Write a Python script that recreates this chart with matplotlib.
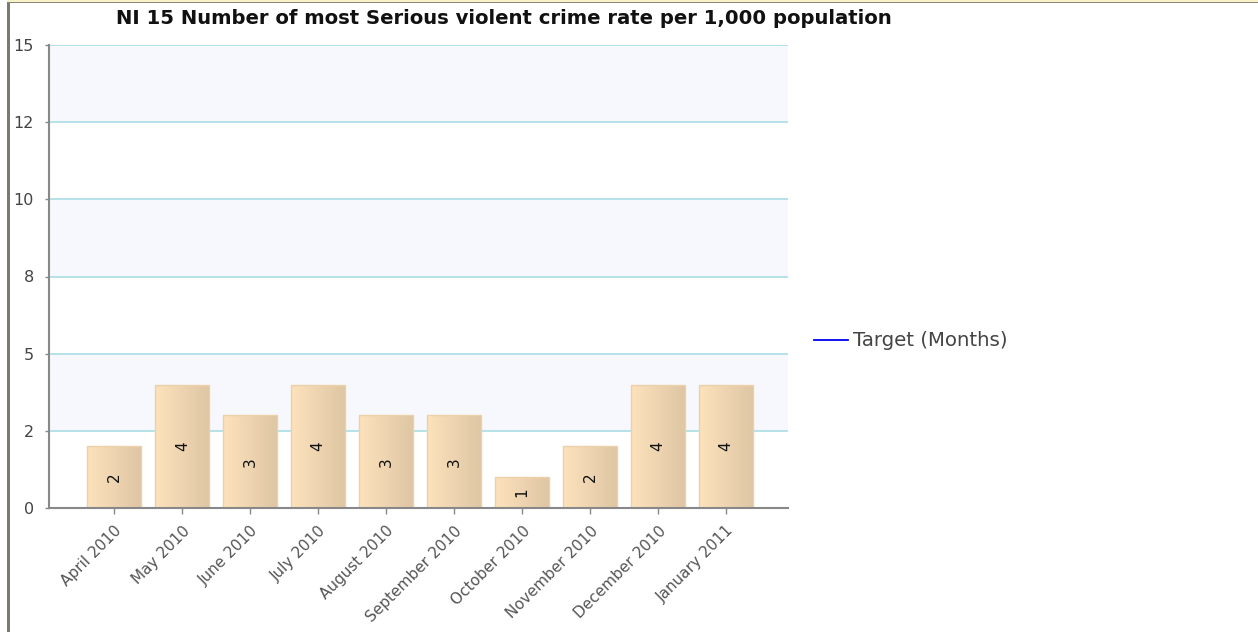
import numpy as np
import matplotlib
matplotlib.use("Agg")
import matplotlib.pyplot as plt
from matplotlib.colors import LinearSegmentedColormap
from matplotlib.lines import Line2D

# ---- data ----
months = ["April 2010", "May 2010", "June 2010", "July 2010", "August 2010",
          "September 2010", "October 2010", "November 2010", "December 2010",
          "January 2011"]
counts = [2, 4, 3, 4, 3, 3, 1, 2, 4, 4]
ytick_values = [0, 2.5, 5, 7.5, 10, 12.5, 15]
ytick_labels = ["0", "2", "5", "8", "10", "12", "15"]
title = "NI 15 Number of most Serious violent crime rate per 1,000 population"
legend_label = "Target (Months)"

W, H = 1258, 632
fig = plt.figure(figsize=(W / 100, H / 100), dpi=100)
fig.patch.set_facecolor("white")

# outer frame decorations (gray left border, olive/yellow top strip)
fig.add_artist(plt.Rectangle((7 / W, 0), 3 / W, 1, transform=fig.transFigure,
                             facecolor="#7a7a70", edgecolor="none"))
fig.add_artist(plt.Rectangle((7 / W, 1 - 2 / H), 1, 2 / H, transform=fig.transFigure,
                             facecolor="#f8f2c8", edgecolor="none"))
fig.add_artist(plt.Rectangle((7 / W, 1 - 3.2 / H), 1, 1.4 / H, transform=fig.transFigure,
                             facecolor="#8a8670", edgecolor="none"))

L, R, T, B = 49, 788, 45, 508
ax = fig.add_axes([L / W, 1 - B / H, (R - L) / W, (B - T) / H])
ax.set_facecolor("white")

x = np.arange(len(months))

# alternating bands
for i in range(len(ytick_values) - 1):
    if i % 2 == 1:
        ax.axhspan(ytick_values[i], ytick_values[i + 1], color="#f7f8fd", zorder=0, lw=0)
for v in ytick_values[1:]:
    ax.axhline(v, color="#a9dde6", lw=1.2, zorder=1)

cmap = LinearSegmentedColormap.from_list("tan", ["#fde2bc", "#dfc6a4"])
grad = np.linspace(0, 1, 256).reshape(1, -1)
bars = ax.bar(x, counts, width=0.79, facecolor="none", edgecolor="#ecd0aa",
              lw=1.0, zorder=3)
for b, c in zip(bars, counts):
    x0, w = b.get_x(), b.get_width()
    im = ax.imshow(grad, cmap=cmap, aspect="auto", extent=(x0, x0 + w, 0, c),
                   zorder=2, interpolation="bilinear")
    im.set_clip_path(b)
    ax.text(b.get_x() + w / 2, c / 2, str(c), rotation=90, ha="center", va="center",
            fontsize=11, color="#111111", zorder=4)
ax.set_xlim(-0.96, 9.91)
ax.set_ylim(0, 15)

ax.set_xticks(x)
ax.set_xticklabels(months, rotation=45, ha="right", rotation_mode="anchor",
                   fontsize=11, color="#555555")
ax.set_yticks(ytick_values)
ax.set_yticklabels(ytick_labels, fontsize=11.5, color="#444444")
ax.tick_params(axis="both", length=4, color="#888888", width=1)
ax.tick_params(axis="x", pad=7)
ax.tick_params(axis="y", length=3, pad=8)
for s in ["top", "right"]:
    ax.spines[s].set_visible(False)
for s in ["left", "bottom"]:
    ax.spines[s].set_color("#888888")
    ax.spines[s].set_linewidth(1.5)
ax.spines["left"].set_zorder(5)
ax.spines["bottom"].set_zorder(5)

fig.text(504 / W, 1 - 18 / H, title, ha="center", va="center", fontsize=14.1,
         fontweight="bold", color="#111111")

handle = Line2D([], [], color="#0000ee", lw=1.3)
fig.legend([handle], [legend_label], loc="center left",
           bbox_to_anchor=(814 / W, 1 - 341 / H), frameon=False, fontsize=14.2,
           labelcolor="#444444", handlelength=1.7, handletextpad=0.3,
           borderpad=0, borderaxespad=0)

fig.savefig("out.png", dpi=100, facecolor="white")
